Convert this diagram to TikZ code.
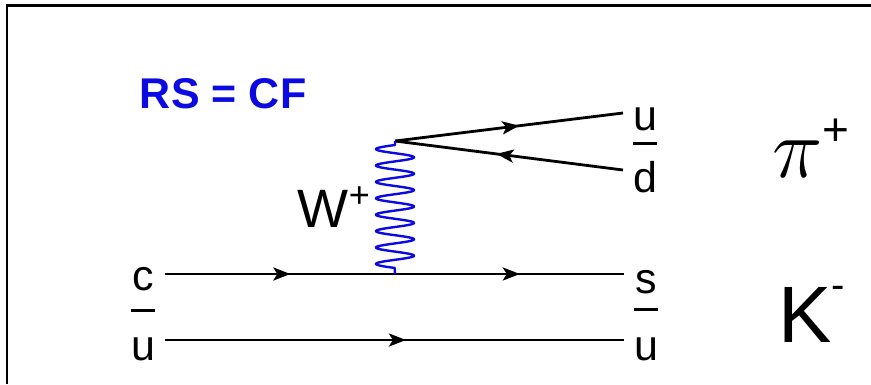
\RequirePackage{fix-cm}
\documentclass[tikz,border=0pt]{standalone}
\usepackage{fontspec}
\setmainfont{Liberation Sans}
\usetikzlibrary{arrows.meta,decorations.markings}
\definecolor{wblue}{RGB}{10,10,225}
\newcommand\barred[2]{\vbox{\hrule height 3pt\kern#1\hbox{#2}}}
\begin{document}
\begin{tikzpicture}[x=1pt,y=-1pt,
  quark/.style={line width=2.8pt,black,postaction={decorate},
    decoration={markings,mark=at position #1 with {\arrow{Stealth[length=17pt,width=13pt,inset=4pt]}}}},
  quark/.default=0.55,
  wave/.style={line width=2.4pt,wblue,line join=round},
  lab/.style={inner sep=0pt,anchor=base,font=\fontsize{43}{50}\selectfont},
  frame/.style={line width=2.8pt,black}]
\useasboundingbox (0,0) rectangle (871,384);
\draw[frame] (7,384) -- (7,5.5) -- (871,5.5);
% title
\node[inner sep=0pt,anchor=base west,text=wblue,font=\fontsize{43}{48}\selectfont\bfseries] (title) at (139,108) {R\kern1ptS = C\kern1ptF};
% vertices and ends
\coordinate (cin) at (165,274);
\coordinate (uin) at (165,340);
\coordinate (vb) at (395,274);
\coordinate (vt) at (395,141);
\coordinate (sout) at (624,274);
\coordinate (uout) at (624,340);
\coordinate (uup) at (623,113);
\coordinate (dup) at (623,170);
% labels
\node[lab] (c) at (143,290) {c};
\node[lab] (ubL) at (143,360) {\barred{25pt}{u}};
\node[lab] (s) at (646,293) {s};
\node[lab] (ubR) at (646,360) {\barred{26pt}{u}};
\node[lab] (u) at (645,130) {u};
\node[lab] (db) at (645,192) {\barred{16pt}{d}};
\node[inner sep=0pt,anchor=base east,font=\fontsize{54}{60}\selectfont] (W) at (370,227) {W\raisebox{20pt}{\fontsize{36}{36}\selectfont +}};
\node[inner sep=0pt,anchor=base west,font=\fontsize{85}{90}\selectfont] (pi) at (772,177) {$\pi$\raisebox{32pt}{\fontsize{46}{46}\selectfont +}};
\node[inner sep=0pt,anchor=base west,font=\fontsize{80}{90}\selectfont] (K) at (778,342) {K\raisebox{44pt}{\fontsize{40}{40}\selectfont -}};
% quark lines
\draw[quark=0.545] (cin) -- (vb);
\draw[quark=0.545] (vb) -- (sout);
\draw[quark=0.525] (uin) -- (uout);
\draw[quark=0.545] (vt) -- (uup);
\draw[quark=0.555] (dup) -- (vt);
% W boson
\draw[wave] (vt) -- ++(0,4) -- plot[domain=0:15,samples=400,smooth] ({395-19*sin(180*\x)},{145+\x*8.2}) -- (vb);
\end{tikzpicture}
\end{document}
